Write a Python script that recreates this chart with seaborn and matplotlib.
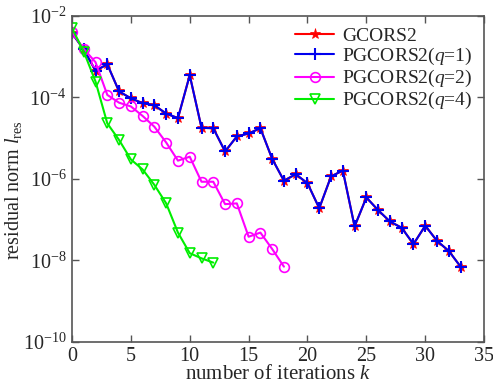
import numpy as np
import pandas as pd
import seaborn as sns
import matplotlib.pyplot as plt
from matplotlib.ticker import LogLocator, NullLocator

# residual norm
k_q1 = list(range(34))
res_q1 = [3.8e-3, 1.5e-3, 4.5e-4, 6.5e-4, 1.4e-4, 9.5e-5, 7.2e-5, 6.4e-5, 4.0e-5, 3.1e-5,
          3.5e-4, 1.8e-5, 1.75e-5, 4.7e-6, 1.1e-5, 1.3e-5, 1.75e-5, 3.1e-6, 9.0e-7, 1.3e-6,
          7.8e-7, 1.9e-7, 1.15e-6, 1.6e-6, 6.8e-8, 3.5e-7, 1.7e-7, 9.0e-8, 6.3e-8, 2.5e-8,
          7.1e-8, 3.0e-8, 1.7e-8, 7.0e-9]
k_q2 = list(range(19))
res_q2 = [4.0e-3, 1.55e-3, 7.3e-4, 1.15e-4, 7.4e-5, 6.0e-5, 3.5e-5, 1.9e-5, 7.8e-6, 2.8e-6,
          3.5e-6, 8.5e-7, 8.5e-7, 2.4e-7, 2.5e-7, 3.8e-8, 4.8e-8, 1.9e-8, 7.0e-9]
k_q4 = list(range(13))
res_q4 = [5.0e-3, 1.33e-3, 2.45e-4, 2.3e-5, 9.0e-6, 3.0e-6, 1.7e-6, 7.1e-7, 2.5e-7, 4.8e-8,
          1.5e-8, 1.12e-8, 8.8e-9]

sns.set_style("ticks")
plt.rcParams['font.family'] = ['Liberation Serif', 'DejaVu Serif']
plt.rcParams['mathtext.fontset'] = 'custom'
plt.rcParams['mathtext.rm'] = 'Liberation Serif'
plt.rcParams['mathtext.it'] = 'Liberation Serif:italic'
plt.rcParams['font.size'] = 14

fig = plt.figure(figsize=(4.93, 3.88), dpi=100)
ax = fig.add_axes([0.146, 0.119, 0.836, 0.840])

# seaborn gives markers a white edge by default, so set edge colours here
sns.lineplot(x=k_q1, y=res_q1, ax=ax, color="red", marker="*", markersize=8,
             markeredgecolor="red", markeredgewidth=0.5, linewidth=1.5, label="GCORS2")
sns.lineplot(x=k_q1, y=res_q1, ax=ax, color="#0000ee", marker="+", markersize=9,
             markeredgecolor="#0000ee", markeredgewidth=1.5, linewidth=1.5,
             label="PGCORS2($q$=1)")
sns.lineplot(x=k_q2, y=res_q2, ax=ax, color="#ff00ff", marker="o", markersize=7,
             markerfacecolor="none", markeredgecolor="#ff00ff", markeredgewidth=1.2,
             linewidth=1.5, label="PGCORS2($q$=2)")
sns.lineplot(x=k_q4, y=res_q4, ax=ax, color="#00ee00", marker="v", markersize=7.5,
             markerfacecolor="none", markeredgecolor="#00ee00", markeredgewidth=1.2,
             linewidth=1.5, label="PGCORS2($q$=4)")

ax.set_yscale("log")
ax.set_xlim(0, 35)
ax.set_ylim(1e-10, 1e-2)
ax.set_xticks(range(0, 36, 5))
ax.yaxis.set_major_locator(LogLocator(base=100.0))
ax.yaxis.set_minor_locator(NullLocator())
ax.tick_params(direction="in", top=True, right=True, length=5, width=1,
               color="#555555", labelsize=14.5, pad=4)
for s in ax.spines.values():
    s.set_color("#555555")
    s.set_linewidth(1.2)

ax.set_xlabel("number of iterations $k$", fontsize=15, labelpad=-1)
ax.set_ylabel("residual norm $l_{\\rm res}$", fontsize=14.5)
ax.yaxis.set_label_coords(-0.117, 0.466)

ax.legend(loc="upper right", frameon=False, fontsize=14, handlelength=2.0,
          handletextpad=0.4, labelspacing=0.05, borderaxespad=0.2)

fig.savefig("out.png", dpi=100)
